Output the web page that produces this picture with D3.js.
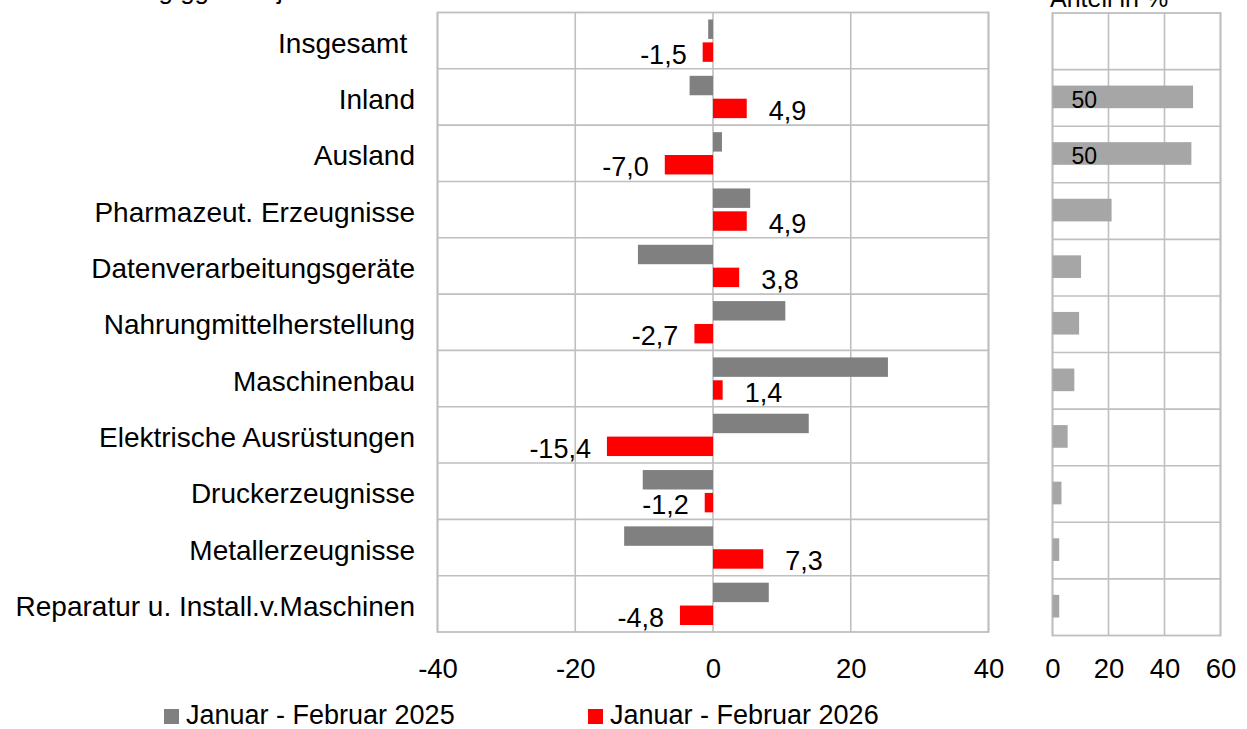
<!DOCTYPE html>
<html>
<head>
<meta charset="utf-8">
<script src="https://cdn.jsdelivr.net/npm/d3@7"></script>
<style>
  body { margin: 0; background: #fff; }
  svg { font-family: "Liberation Sans", Arial, sans-serif; }
</style>
</head>
<body>
<svg id="svg" width="1247" height="729"></svg>
<script>
const categories = ['Insgesamt ', 'Inland', 'Ausland', 'Pharmazeut. Erzeugnisse', 'Datenverarbeitungsgeräte',
    'Nahrungmittelherstellung', 'Maschinenbau', 'Elektrische Ausrüstungen', 'Druckerzeugnisse',
    'Metallerzeugnisse', 'Reparatur u. Install.v.Maschinen'];
const values2025 = [-0.7, -3.4, 1.3, 5.4, -10.9, 10.5, 25.4, 13.9, -10.2, -12.9, 8.1];
const values2026 = [-1.5, 4.9, -7.0, 4.9, 3.8, -2.7, 1.4, -15.4, -1.2, 7.3, -4.8];
const shares = [null, 50.2, 49.6, 21.1, 10.2, 9.5, 7.8, 5.4, 3.2, 2.4, 2.4];
const shareLabels = [null, '50', '50', null, null, null, null, null, null, null, null];
const series = ['Januar - Februar 2025', 'Januar - Februar 2026'];
const ticksLeft = [-40, -20, 0, 20, 40];
const ticksRight = [0, 20, 40, 60];

const svg = d3.select('#svg');
const gridColor = '#bfbfbf';
const fmt = v => v.toFixed(1).replace('.', ',');

// titles, cut off at the top like in the original
svg.append('text').attr('x', 24).attr('y', -1.5).attr('font-size', 26)
    .text('Veränderung ggü. Vorjahr in %');
svg.append('text').attr('x', 1050).attr('y', 7).attr('font-size', 25)
    .text('Anteil in %');

// ---------- left panel ----------
const x = d3.scaleLinear().domain([-40, 40]).range([437.5, 988.5]);
const y = d3.scaleBand().domain(categories).range([12.5, 632]).padding(0);
const ySub = d3.scaleBand().domain(series).range([7, y.bandwidth() - 7]).paddingInner(0.15);

const left = svg.append('g');
left.selectAll('line.v').data(ticksLeft).join('line')
    .attr('x1', d => x(d)).attr('x2', d => x(d))
    .attr('y1', y.range()[0]).attr('y2', y.range()[1])
    .attr('stroke', gridColor).attr('stroke-width', 1.6);
left.selectAll('line.h').data(categories.slice(1)).join('line')
    .attr('x1', x(-40)).attr('x2', x(40))
    .attr('y1', d => y(d)).attr('y2', d => y(d))
    .attr('stroke', gridColor).attr('stroke-width', 1.6);
left.append('rect')
    .attr('x', x(-40)).attr('y', y.range()[0])
    .attr('width', x(40) - x(-40)).attr('height', y.range()[1] - y.range()[0])
    .attr('fill', 'none').attr('stroke', gridColor).attr('stroke-width', 1.8);

const rows = categories.map((c, i) => ({ cat: c, v25: values2025[i], v26: values2026[i] }));

left.selectAll('rect.b25').data(rows).join('rect')
    .attr('x', d => x(Math.min(0, d.v25)))
    .attr('width', d => Math.abs(x(d.v25) - x(0)))
    .attr('y', d => y(d.cat) + ySub(series[0]))
    .attr('height', ySub.bandwidth())
    .attr('fill', '#808080');

left.selectAll('rect.b26').data(rows).join('rect')
    .attr('x', d => x(Math.min(0, d.v26)))
    .attr('width', d => Math.abs(x(d.v26) - x(0)))
    .attr('y', d => y(d.cat) + ySub(series[1]))
    .attr('height', ySub.bandwidth())
    .attr('fill', '#ff0000');

left.selectAll('text.lab').data(rows).join('text')
    .attr('x', d => d.v26 >= 0 ? x(d.v26) + 22 : x(d.v26) - 16)
    .attr('y', d => y(d.cat) + ySub(series[1]) + ySub.bandwidth() / 2 + 11.5)
    .attr('text-anchor', d => d.v26 >= 0 ? 'start' : 'end')
    .attr('font-size', 27)
    .text(d => fmt(d.v26));

// category labels
svg.selectAll('text.cat').data(categories).join('text')
    .attr('x', 415)
    .attr('y', d => y(d) + y.bandwidth() / 2 + 12)
    .attr('text-anchor', 'end')
    .attr('font-size', 28)
    .style('white-space', 'pre')
    .text(d => d);

const axisL = d3.axisBottom(x).tickValues(ticksLeft).tickSize(0).tickFormat(d => String(d));
const gAxL = svg.append('g').attr('transform', 'translate(0,655)').call(axisL);
gAxL.select('.domain').remove();
gAxL.selectAll('text').attr('font-size', 27.5).attr('font-family', 'Liberation Sans, Arial, sans-serif').attr('fill', '#000');

// ---------- right panel ----------
const x2 = d3.scaleLinear().domain([0, 60]).range([1052.5, 1220.5]);
const yRow2 = d3.scaleBand().domain(categories).range([13, 635.5]).padding(0);
const y2 = d3.scaleBand().domain(categories).range([13, 635.5]).paddingInner(0.6).paddingOuter(0.3);

const right = svg.append('g');
right.selectAll('line.v').data(ticksRight).join('line')
    .attr('x1', d => x2(d)).attr('x2', d => x2(d))
    .attr('y1', yRow2.range()[0]).attr('y2', yRow2.range()[1])
    .attr('stroke', gridColor).attr('stroke-width', 1.6);
right.selectAll('line.h').data(categories.slice(1)).join('line')
    .attr('x1', x2(0)).attr('x2', x2(60))
    .attr('y1', d => yRow2(d)).attr('y2', d => yRow2(d))
    .attr('stroke', gridColor).attr('stroke-width', 1.6);
right.append('rect')
    .attr('x', x2(0)).attr('y', yRow2.range()[0])
    .attr('width', x2(60) - x2(0)).attr('height', yRow2.range()[1] - yRow2.range()[0])
    .attr('fill', 'none').attr('stroke', gridColor).attr('stroke-width', 1.8);

const shareRows = categories.map((c, i) => ({ cat: c, v: shares[i], lab: shareLabels[i] }))
    .filter(d => d.v != null);

right.selectAll('rect.s').data(shareRows).join('rect')
    .attr('x', x2(0))
    .attr('width', d => x2(d.v) - x2(0))
    .attr('y', d => y2(d.cat) - 1)
    .attr('height', y2.bandwidth())
    .attr('fill', '#a6a6a6');

right.selectAll('text.s').data(shareRows.filter(d => d.lab)).join('text')
    .attr('x', x2(0) + 19)
    .attr('y', d => y2(d.cat) + y2.bandwidth() / 2 + 10)
    .attr('font-size', 23)
    .text(d => d.lab);

const axisR = d3.axisBottom(x2).tickValues(ticksRight).tickSize(0).tickFormat(d => String(d));
const gAxR = svg.append('g').attr('transform', 'translate(0,655)').call(axisR);
gAxR.select('.domain').remove();
gAxR.selectAll('text').attr('font-size', 27.5).attr('font-family', 'Liberation Sans, Arial, sans-serif').attr('fill', '#000');

// ---------- legend ----------
const legendX = [164, 588];
const legendColors = ['#808080', '#ff0000'];
const legend = svg.selectAll('g.leg').data(series).join('g')
    .attr('transform', (d, i) => `translate(${legendX[i]},709)`);
legend.append('rect').attr('width', 15).attr('height', 15).attr('fill', (d, i) => legendColors[i]);
legend.append('text').attr('x', 22).attr('y', 14.5).attr('font-size', 27).text(d => d);
</script>
</body>
</html>
